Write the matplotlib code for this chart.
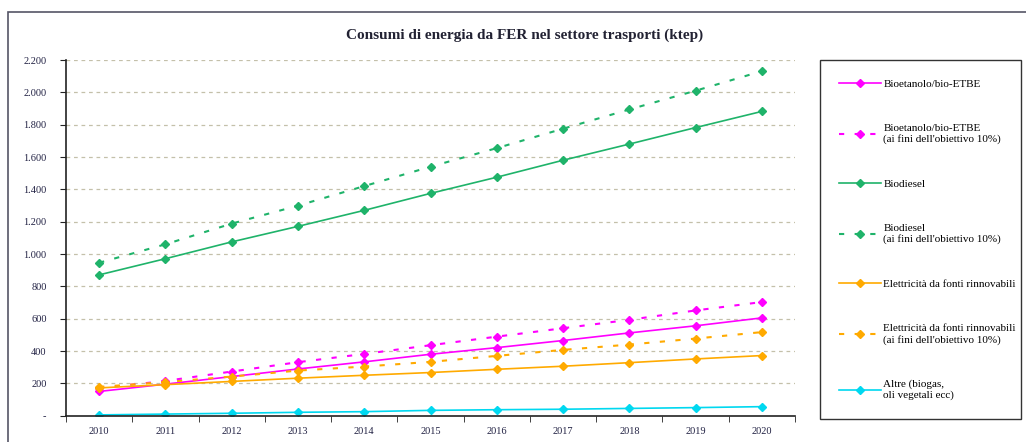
import numpy as np
import matplotlib
matplotlib.use("Agg")
from matplotlib import pyplot as plt
from matplotlib.patches import Rectangle
from matplotlib.ticker import FuncFormatter, FixedLocator

plt.rcParams['font.family'] = ['Liberation Serif', 'DejaVu Serif']

anni = ['2010', '2011', '2012', '2013', '2014', '2015', '2016', '2017', '2018', '2019', '2020']
bioetanolo = [150, 195, 242, 289, 333, 380, 421, 465, 512, 556, 605]
bioetanolo_obj = [170, 215, 273, 331, 382, 436, 489, 541, 593, 651, 703]
biodiesel = [871, 971, 1075, 1171, 1270, 1375, 1475, 1580, 1680, 1782, 1882]
biodiesel_obj = [946, 1060, 1188, 1299, 1420, 1540, 1655, 1775, 1894, 2010, 2131]
elettricita = [172, 192, 212, 232, 250, 267, 287, 306, 328, 351, 372]
elettricita_obj = [178, 208, 242, 279, 304, 333, 370, 407, 440, 477, 517]
altre = [5, 10, 15, 21, 25, 33, 37, 40, 45, 50, 56]

serie = [
    ("Bioetanolo/bio-ETBE", bioetanolo, '#ff00ff', False),
    ("Bioetanolo/bio-ETBE\n(ai fini dell'obiettivo 10%)", bioetanolo_obj, '#ff00ff', True),
    ("Biodiesel", biodiesel, '#1fb36a', False),
    ("Biodiesel\n(ai fini dell'obiettivo 10%)", biodiesel_obj, '#1fb36a', True),
    ("Elettricità da fonti rinnovabili", elettricita, '#ffaa00', False),
    ("Elettricità da fonti rinnovabili\n(ai fini dell'obiettivo 10%)", elettricita_obj, '#ffaa00', True),
    ("Altre (biogas,\noli vegetali ecc)", altre, '#00d8f0', False),
]

fig = plt.figure(figsize=(10.26, 4.42), dpi=100)
ax = fig.add_axes([66/1026, 26.3/442, (795-66)/1026, (415.7-60)/442])

x = np.arange(len(anni))
for nome, vals, col, obj in serie:
    if obj:
        ax.plot(x, vals, color=col, lw=1.5, dashes=(2.5, 5), marker='D', ms=4.5,
                mec=col, mfc=col, label=nome)
    else:
        ax.plot(x, vals, color=col, lw=1.2, marker='D', ms=4,
                mec=col, mfc=col, label=nome)

ax.set_xlim(-0.5, len(anni) - 0.5)
ax.set_ylim(0, 2200)
ax.set_yticks(np.arange(0, 2201, 200))

def fmt(v, pos):
    if v == 0:
        return '-'
    return f"{int(v):,}".replace(',', '.')

ax.yaxis.set_major_formatter(FuncFormatter(fmt))
ax.set_xticks(x)
ax.set_xticklabels(anni)
ax.xaxis.set_minor_locator(FixedLocator(np.arange(-0.5, len(anni), 1)))
ax.tick_params(axis='x', which='major', length=0, labelsize=7.5, pad=8, colors='#222244')
ax.tick_params(axis='x', which='minor', length=4, direction='out', color='#222222')
ax.tick_params(axis='y', length=4, direction='out', labelsize=7.5, pad=10, colors='#222244')
ax.tick_params(axis='y', color='#222222')

for y in np.arange(200, 2201, 200):
    ax.axhline(y, color='#c4c0aa', lw=0.9, dashes=(3, 3), zorder=0)

for s in ['top', 'right']:
    ax.spines[s].set_visible(False)
for s in ['left', 'bottom']:
    ax.spines[s].set_color('#222222')
    ax.spines[s].set_linewidth(1.2)

fig.text(525/1026, 1 - 35/442, "Consumi di energia da FER nel settore trasporti (ktep)",
         ha='center', va='center', fontsize=11, fontweight='bold', color='#222233')

leg = ax.legend(loc='upper left', bbox_to_anchor=(820/1026, 1 - 60/442, 201/1026, 0.0),
                bbox_transform=fig.transFigure, mode='expand', borderaxespad=0,
                fontsize=8, handlelength=3.8, handletextpad=0.2, labelspacing=3.15,
                borderpad=1.7, fancybox=False, edgecolor='#333333', framealpha=1)
leg.get_frame().set_linewidth(1.0)

# cornice esterna
fig.patches.append(Rectangle((8/1026, -0.1), 1.2, 1 - 12/442 + 0.1, transform=fig.transFigure,
                             fill=False, edgecolor='#555566', lw=1.2))

fig.savefig('out.png', dpi=100)
